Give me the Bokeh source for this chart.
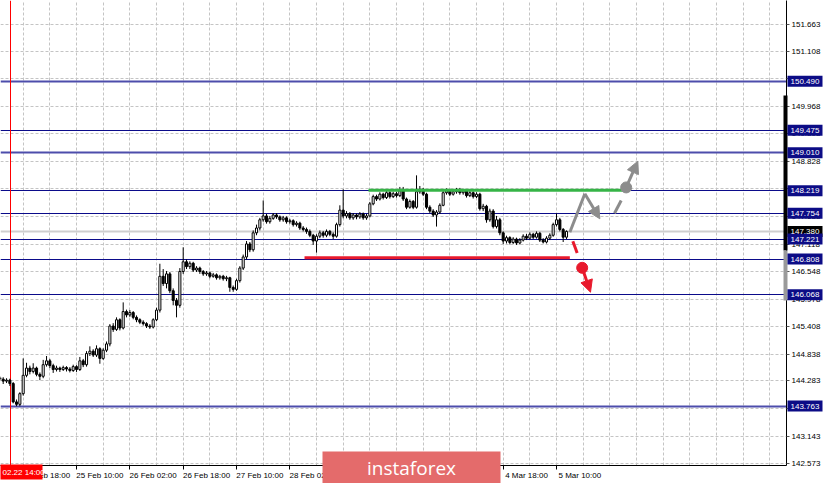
from bokeh.plotting import figure
from bokeh.models import Range1d, FixedTicker, Arrow, NormalHead, PrintfTickFormatter
from bokeh.core.properties import value
from bokeh.embed import file_html
from bokeh.resources import INLINE

# ---------------- data ----------------
bar_index = list(range(-7, 164))

opens = [144.35, 144.32, 144.28, 144.30, 144.23, 143.85, 143.80,
         144.02, 144.40, 144.55, 144.48, 144.55, 144.42, 144.38, 144.62, 144.70, 144.60,
         144.52, 144.55, 144.52, 144.56, 144.53, 144.50, 144.58, 144.52, 144.70, 144.62,
         144.85, 144.90, 144.82, 144.95, 144.75, 144.92, 145.05, 145.42, 145.35, 145.55,
         145.38, 145.72, 145.65, 145.70, 145.60, 145.55, 145.50, 145.47, 145.42, 145.40,
         145.55, 145.75, 146.45, 146.30, 146.50, 146.15, 145.95, 145.85, 146.55, 146.75,
         146.65, 146.72, 146.58, 146.62, 146.55, 146.50, 146.52, 146.45, 146.48, 146.42,
         146.45, 146.40, 146.42, 146.22, 146.18, 146.36, 146.62, 146.85, 147.12, 147.00,
         147.35, 147.45, 147.62, 147.70, 147.58, 147.65, 147.72, 147.68, 147.62, 147.66,
         147.58, 147.60, 147.52, 147.55, 147.45, 147.42, 147.38, 147.30, 147.18, 147.28,
         147.35, 147.30, 147.38, 147.32, 147.28, 147.52, 147.82, 147.70, 147.75, 147.66,
         147.72, 147.68, 147.74, 147.66, 147.70, 147.95, 148.10, 148.05, 148.15, 148.08,
         148.18, 148.10, 148.16, 148.12, 148.22, 148.05, 147.88, 148.00, 147.88, 148.20,
         148.25, 148.15, 147.88, 147.80, 147.72, 147.78, 147.92, 148.18, 148.22, 148.15,
         148.20, 148.25, 148.18, 148.22, 148.12, 148.18, 148.10, 148.15, 147.85, 147.90,
         147.62, 147.80, 147.48, 147.62, 147.35, 147.18, 147.25, 147.15, 147.22, 147.14,
         147.20, 147.28, 147.24, 147.32, 147.26, 147.34, 147.20, 147.16, 147.24, 147.30,
         147.52, 147.62, 147.42, 147.26]

closes = [144.32, 144.28, 144.30, 144.23, 143.85, 143.80, 144.02,
          144.40, 144.55, 144.48, 144.55, 144.42, 144.38, 144.62, 144.70, 144.60, 144.52,
          144.55, 144.52, 144.56, 144.53, 144.50, 144.58, 144.52, 144.70, 144.62, 144.85,
          144.90, 144.82, 144.95, 144.75, 144.92, 145.05, 145.42, 145.35, 145.55, 145.38,
          145.72, 145.65, 145.70, 145.60, 145.55, 145.50, 145.47, 145.42, 145.40, 145.55,
          145.75, 146.45, 146.30, 146.50, 146.15, 145.95, 145.85, 146.55, 146.75, 146.65,
          146.72, 146.58, 146.62, 146.55, 146.50, 146.52, 146.45, 146.48, 146.42, 146.45,
          146.40, 146.42, 146.22, 146.18, 146.36, 146.62, 146.85, 147.12, 147.00, 147.35,
          147.45, 147.62, 147.70, 147.58, 147.65, 147.72, 147.68, 147.62, 147.66, 147.58,
          147.60, 147.52, 147.55, 147.45, 147.42, 147.38, 147.30, 147.18, 147.28, 147.35,
          147.30, 147.38, 147.32, 147.28, 147.52, 147.82, 147.70, 147.75, 147.66, 147.72,
          147.68, 147.74, 147.66, 147.70, 147.95, 148.10, 148.05, 148.15, 148.08, 148.18,
          148.10, 148.16, 148.12, 148.22, 148.05, 147.88, 148.00, 147.88, 148.20, 148.25,
          148.15, 147.88, 147.80, 147.72, 147.78, 147.92, 148.18, 148.22, 148.15, 148.20,
          148.25, 148.18, 148.22, 148.12, 148.18, 148.10, 148.15, 147.85, 147.90, 147.62,
          147.80, 147.48, 147.62, 147.35, 147.18, 147.25, 147.15, 147.22, 147.14, 147.20,
          147.28, 147.24, 147.32, 147.26, 147.34, 147.20, 147.16, 147.24, 147.30, 147.52,
          147.62, 147.42, 147.26, 147.38]

highs = [144.38, 144.36, 144.34, 144.33, 144.26, 143.90, 144.05,
         144.75, 144.66, 144.60, 144.65, 144.58, 144.46, 144.72, 144.80, 144.74, 144.64,
         144.60, 144.58, 144.60, 144.59, 144.57, 144.62, 144.61, 144.78, 144.74, 144.90,
         145.00, 144.94, 145.02, 144.98, 144.96, 145.10, 145.46, 145.48, 145.60, 145.58,
         145.91, 145.76, 145.75, 145.73, 145.64, 145.58, 145.54, 145.50, 145.46, 145.58,
         145.80, 146.71, 146.60, 146.56, 146.54, 146.20, 146.00, 146.62, 147.05, 146.80,
         146.76, 146.75, 146.66, 146.65, 146.58, 146.56, 146.55, 146.52, 146.51, 146.48,
         146.48, 146.46, 146.44, 146.26, 146.40, 146.66, 146.90, 147.18, 147.16, 147.40,
         147.52, 147.66, 148.02, 147.74, 147.70, 147.76, 147.76, 147.71, 147.70, 147.69,
         147.64, 147.63, 147.59, 147.58, 147.49, 147.46, 147.42, 147.33, 147.32, 147.40,
         147.39, 147.42, 147.41, 147.36, 147.56, 147.92, 148.25, 147.80, 147.78, 147.76,
         147.75, 147.78, 147.77, 147.74, 147.99, 148.14, 148.14, 148.19, 148.18, 148.22,
         148.21, 148.20, 148.20, 148.30, 148.30, 148.08, 148.04, 148.03, 148.54, 148.32,
         148.28, 148.18, 147.92, 147.84, 147.82, 147.96, 148.22, 148.27, 148.26, 148.24,
         148.28, 148.28, 148.26, 148.25, 148.22, 148.21, 148.19, 148.18, 147.95, 147.93,
         147.85, 147.84, 147.70, 147.66, 147.38, 147.29, 147.28, 147.26, 147.25, 147.24,
         147.32, 147.33, 147.36, 147.35, 147.38, 147.37, 147.24, 147.28, 147.34, 147.56,
         147.75, 147.66, 147.45, 147.40]

lows = [144.28, 144.22, 144.24, 144.18, 143.82, 143.76, 143.76,
        143.98, 144.36, 144.42, 144.44, 144.38, 144.30, 144.34, 144.58, 144.55, 144.45,
        144.48, 144.47, 144.49, 144.48, 144.46, 144.47, 144.47, 144.49, 144.57, 144.58,
        144.80, 144.78, 144.78, 144.64, 144.72, 144.88, 145.00, 145.30, 145.32, 145.33,
        145.35, 145.60, 145.61, 145.56, 145.50, 145.46, 145.43, 145.38, 145.36, 145.37,
        145.52, 145.70, 146.25, 146.20, 146.10, 145.85, 145.60, 145.80, 146.50, 146.60,
        146.60, 146.54, 146.54, 146.50, 146.46, 146.46, 146.41, 146.42, 146.38, 146.38,
        146.36, 146.35, 146.13, 146.13, 146.15, 146.32, 146.58, 146.80, 146.95, 146.96,
        147.30, 147.40, 147.58, 147.54, 147.54, 147.62, 147.64, 147.58, 147.58, 147.54,
        147.54, 147.48, 147.48, 147.41, 147.38, 147.33, 147.26, 147.10, 146.94, 147.24,
        147.25, 147.26, 147.28, 147.22, 147.25, 147.48, 147.65, 147.65, 147.62, 147.62,
        147.63, 147.64, 147.62, 147.62, 147.67, 147.92, 148.01, 148.02, 148.04, 148.05,
        148.06, 148.07, 148.08, 148.09, 148.01, 147.84, 147.85, 147.84, 147.85, 148.16,
        148.11, 147.84, 147.76, 147.68, 147.48, 147.74, 147.90, 148.14, 148.11, 148.12,
        148.16, 148.14, 148.14, 148.08, 148.09, 148.06, 148.07, 147.81, 147.80, 147.56,
        147.58, 147.44, 147.44, 147.30, 147.12, 147.13, 147.11, 147.12, 147.10, 147.11,
        147.17, 147.20, 147.21, 147.22, 147.23, 147.16, 147.13, 147.13, 147.20, 147.27,
        147.48, 147.38, 147.16, 147.22]

price_ticks = [151.663, 151.108, 150.538, 149.968, 149.398, 148.828, 148.258, 147.688,
               147.118, 146.548, 145.978, 145.408, 144.838, 144.283, 143.713, 143.143, 142.573]

time_tick_bars = [0, 16, 32, 48, 64, 80, 144, 160]
time_tick_labels = ["24 Feb 18:00", "25 Feb 10:00", "26 Feb 02:00", "26 Feb 18:00",
                    "27 Feb 10:00", "28 Feb 02:00", "4 Mar 18:00", "5 Mar 10:00"]

strong_levels = [150.490, 149.010, 143.763]
levels = [149.475, 148.219, 147.754, 147.221, 146.808, 146.068]
bid_price = 147.380

resistance_bars = [103.6, 180.3]
resistance_price = [148.232, 148.232]
support_bars = [84.4, 164.0]
support_price = [146.833, 146.833]

# bullish scenario (grey)
up_leg_bars = [164.0, 168.5]
up_leg_price = [147.363, 148.158]
pullback = (168.5, 148.158, 173.0, 147.64)
retest_bars = [177.4, 179.4]
retest_price = [147.756, 148.02]
breakout_point = (180.9, 148.29)
breakout_target = (184.4, 148.833)

# bearish scenario (red)
down_dash_bars = [164.9, 166.2]
down_dash_price = [147.176, 146.933]
breakdown_point = (167.7, 146.626)
breakdown_target = (170.2, 146.121)

crosshair_bar = -3.81
crosshair_label = "02.22 14:00"
logo_text = "instaforex"

# ---------------- figure ----------------
W, H = 824, 483
RIGHT, BOTTOM = 38, 18
FW, FH = W - RIGHT, H - BOTTOM
X0, X1 = -6.81, 229.0
Y0, Y1 = 142.533, 152.160
KX = (X1 - X0) / FW     # data units per pixel, x
KY = (Y1 - Y0) / FH     # data units per pixel, y

p = figure(width=W, height=H, x_range=Range1d(X0, X1), y_range=Range1d(Y0, Y1),
           y_axis_location="right", output_backend="svg", toolbar_location=None,
           min_border_left=0, min_border_top=0, min_border_right=RIGHT, min_border_bottom=BOTTOM)
p.outline_line_color = None
p.background_fill_color = "white"
p.border_fill_color = "white"

FONT = "Liberation Sans"

# axes
p.yaxis.ticker = FixedTicker(ticks=price_ticks)
p.yaxis.formatter = PrintfTickFormatter(format="%.3f")
p.yaxis.major_label_text_font = FONT
p.yaxis.major_label_text_font_size = "8px"
p.yaxis.major_label_text_color = "black"
p.yaxis.major_tick_out = 3
p.yaxis.major_tick_in = 0
p.yaxis.minor_tick_out = 0
p.yaxis.minor_tick_in = 0
p.yaxis.major_label_standoff = 2
p.yaxis.axis_line_color = "black"
p.yaxis.major_tick_line_color = "#555555"

LABEL_SHIFT = 7
p.xaxis.ticker = FixedTicker(ticks=[b + LABEL_SHIFT for b in time_tick_bars],
                             minor_ticks=time_tick_bars)
p.xaxis.major_label_overrides = {b + LABEL_SHIFT: t for b, t in zip(time_tick_bars, time_tick_labels)}
p.xaxis.major_label_text_font = FONT
p.xaxis.major_label_text_font_size = "8px"
p.xaxis.major_label_text_color = "black"
p.xaxis.major_tick_out = 0
p.xaxis.major_tick_in = 0
p.xaxis.minor_tick_out = 4
p.xaxis.minor_tick_in = 0
p.xaxis.minor_tick_line_color = "black"
p.xaxis.major_label_standoff = 1
p.xaxis.axis_line_color = "black"

# grid
p.xgrid.ticker = FixedTicker(ticks=list(range(0, 229, 8)))
for g in (p.xgrid, p.ygrid):
    g.grid_line_color = "#c4c4c4"
    g.grid_line_dash = "3 2"
    g.grid_line_width = 1

# horizontal levels
p.hspan(y=strong_levels, line_color="#4d4dab", line_width=2)
p.hspan(y=levels, line_color="#0b0b8a", line_width=1)
p.hspan(y=[bid_price], line_color="#cfcfcf", line_width=2)
p.vspan(x=[crosshair_bar], line_color="red", line_width=1)

# candles
body_fill = ["white" if c >= o else "black" for o, c in zip(opens, closes)]
p.segment(x0=bar_index, y0=highs, x1=bar_index, y1=lows, line_color="black", line_width=1)
p.vbar(x=bar_index, width=0.62, top=closes, bottom=opens, fill_color=body_fill,
       line_color="black", line_width=1)

# support / resistance
p.line(resistance_bars, resistance_price, line_color="#36b447", line_width=3)
p.line(support_bars, support_price, line_color="#e8192c", line_width=3)

GREY = "#8c8c8c"
RED = "#e8192c"
p.line(up_leg_bars, up_leg_price, line_color=GREY, line_width=3)
p.add_layout(Arrow(x_start=pullback[0], y_start=pullback[1], x_end=pullback[2], y_end=pullback[3],
                   line_color=GREY, line_width=3,
                   end=NormalHead(size=12, fill_color=GREY, line_color=GREY)))
p.line(retest_bars, retest_price, line_color=GREY, line_width=3)
p.scatter([breakout_point[0]], [breakout_point[1]], size=11, fill_color=GREY, line_color=GREY)
p.add_layout(Arrow(x_start=breakout_point[0], y_start=breakout_point[1],
                   x_end=breakout_target[0], y_end=breakout_target[1],
                   line_color=GREY, line_width=3,
                   end=NormalHead(size=12, fill_color=GREY, line_color=GREY)))

p.line(down_dash_bars, down_dash_price, line_color=RED, line_width=3)
p.scatter([breakdown_point[0]], [breakdown_point[1]], size=11, fill_color=RED, line_color=RED)
p.add_layout(Arrow(x_start=breakdown_point[0], y_start=breakdown_point[1],
                   x_end=breakdown_target[0], y_end=breakdown_target[1],
                   line_color=RED, line_width=3,
                   end=NormalHead(size=12, fill_color=RED, line_color=RED)))

# ---- decorations over the axis area (overlay level so they are not clipped) ----
# thick marker on the price scale
r = p.quad(left=[X1 - 3 * KX, X1 - 3 * KX], right=[X1 + 1 * KX, X1 + 1 * KX],
           top=[Y1 - 95 * KY, Y1 - 250 * KY], bottom=[Y1 - 250 * KY, Y1 - 300 * KY],
           fill_color=["black", "#9a9a9a"], line_color=None)
r.level = "overlay"

box_vals = [bid_price] + sorted(strong_levels + levels, reverse=True)
box_cols = ["black"] + ["#0c0c86"] * (len(box_vals) - 1)
bl = X1 + 1 * KX
br = X1 + 36 * KX
r = p.quad(left=[bl] * len(box_vals), right=[br] * len(box_vals),
           top=[v + 5.5 * KY for v in box_vals], bottom=[v - 5.5 * KY for v in box_vals],
           fill_color=box_cols, line_color=None)
r.level = "overlay"
t = p.text(x=[X1] * len(box_vals), y=box_vals, text=[f"{v:.3f}" for v in box_vals],
           x_offset=4, text_align="left", text_baseline="middle",
           text_font=value(FONT), text_font_size="8px", text_color="white")
t.level = "overlay"

# crosshair time box
r = p.quad(left=[X0], right=[X0 + 42 * KX], top=[Y0 + 1 * KY], bottom=[Y0 - 14 * KY],
           fill_color="#ff0000", line_color=None)
r.level = "overlay"
t = p.text(x=[X0], y=[Y0 - 6.5 * KY], text=[crosshair_label], x_offset=2,
           text_align="left", text_baseline="middle",
           text_font=value(FONT), text_font_size="8px", text_color="white")
t.level = "overlay"

# logo
r = p.quad(left=[X0 + 322 * KX], right=[X0 + 500 * KX], top=[Y0 + 14 * KY], bottom=[Y0 - 18 * KY],
           fill_color="#e46b6b", line_color=None)
r.level = "overlay"
t = p.text(x=[X0 + 411 * KX], y=[Y0 - 2 * KY], text=[logo_text],
           text_align="center", text_baseline="middle",
           text_font=value("Open Sans"), text_font_size="19px", text_color="white")
t.level = "overlay"

open("out.html", "w").write(file_html(p, INLINE))
